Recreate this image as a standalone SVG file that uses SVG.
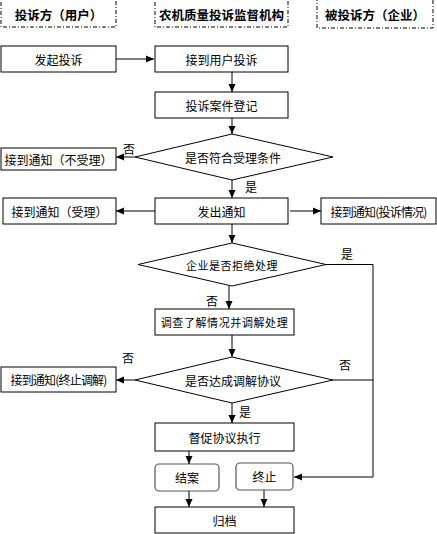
<svg xmlns="http://www.w3.org/2000/svg" width="437" height="534" viewBox="0 0 437 534">
<defs>
<marker id="ah" markerWidth="8" markerHeight="8" refX="8" refY="4" orient="auto" markerUnits="userSpaceOnUse">
<path d="M0,0.5 L8,4 L0,7.5 Z" fill="#000"/>
</marker>
<style>
.bx{fill:#fff;stroke:#000;stroke-width:1}
.hd{fill:#fff;stroke:#000;stroke-width:1;stroke-dasharray:4,2,1,2}
.rb{fill:#fff;stroke:#555;stroke-width:1.2}
.t{font-family:"Noto Sans CJK SC","Noto Sans CJK JP",sans-serif;font-size:12px;fill:#000;text-anchor:middle;dominant-baseline:central}
.h{font-family:"Noto Sans CJK SC","Noto Sans CJK JP",sans-serif;font-size:12.5px;font-weight:bold;fill:#000;text-anchor:middle;dominant-baseline:central}
.c{fill:none;stroke:#000;stroke-width:1}
</style>
</defs>
<rect width="437" height="534" fill="#fff"/>
<g id="h1"><rect class="hd" x="1" y="-1" width="115" height="28"/><text class="h" x="58.5" y="14">投诉方（用户）</text></g>
<g id="h2"><rect class="hd" x="155" y="-1" width="133" height="28"/><text class="h" x="221.5" y="14">农机质量投诉监督机构</text></g>
<g id="h3"><rect class="hd" x="317" y="-1" width="116" height="29"/><text class="h" x="375" y="14">被投诉方（企业）</text></g>

<g id="n1"><rect class="bx" x="1" y="46" width="115" height="26"/><text class="t" x="58.5" y="59">发起投诉</text></g>
<g id="n2"><rect class="bx" x="155" y="46" width="133" height="26"/><text class="t" x="221.5" y="59">接到用户投诉</text></g>
<g id="n3"><rect class="bx" x="155" y="92" width="133" height="26"/><text class="t" x="221.5" y="105">投诉案件登记</text></g>
<g id="d1"><polygon class="bx" points="232,134 333,157 232,180 135,157"/><text class="t" x="233" y="157">是否符合受理条件</text></g>
<g id="n4"><rect class="bx" x="1" y="148" width="115" height="22"/><text class="t" x="58.5" y="159">接到通知（不受理）</text></g>
<g id="n5"><rect class="bx" x="155" y="198" width="133" height="26"/><text class="t" x="221.5" y="211">发出通知</text></g>
<g id="n6"><rect class="bx" x="3" y="198" width="113" height="26"/><text class="t" x="59.5" y="211">接到通知（受理）</text></g>
<g id="n7"><rect class="bx" x="321" y="198" width="115" height="26"/><text class="t" x="378.5" y="211" letter-spacing="-0.8">接到通知(投诉情况)</text></g>
<g id="d2"><polygon class="bx" points="232,243 326,264.5 232,286 138,264.5"/><text class="t" x="232" y="264.5" style="font-size:11px;letter-spacing:0.5px">企业是否拒绝处理</text></g>
<g id="n8"><rect class="bx" x="155" y="309" width="139" height="26"/><text class="t" x="224.5" y="322" style="font-size:11px;letter-spacing:0.6px">调查了解情况并调解处理</text></g>
<g id="d3"><polygon class="bx" points="232,357 333,380 232,403 135,380"/><text class="t" x="233" y="380">是否达成调解协议</text></g>
<g id="n9"><rect class="bx" x="1" y="367" width="115" height="25"/><text class="t" x="58.5" y="379.5" letter-spacing="-0.8">接到通知(终止调解)</text></g>
<g id="n10"><rect class="bx" x="155" y="423" width="139" height="28"/><text class="t" x="224.5" y="437">督促协议执行</text></g>
<g id="n11"><rect class="rb" x="155" y="464" width="64" height="27" rx="4"/><text class="t" x="187" y="477.5">结案</text></g>
<g id="n12"><rect class="rb" x="236" y="463" width="57" height="27" rx="4"/><text class="t" x="264.5" y="476.5">终止</text></g>
<g id="n13"><rect class="bx" x="155" y="507" width="139" height="26"/><text class="t" x="224.5" y="520">归档</text></g>

<g id="connectors">
<line class="c" x1="116" y1="59" x2="154" y2="59" marker-end="url(#ah)"/>
<line class="c" x1="232" y1="72" x2="232" y2="92" marker-end="url(#ah)"/>
<line class="c" x1="232" y1="118" x2="232" y2="134" marker-end="url(#ah)"/>
<line class="c" x1="135" y1="157" x2="116" y2="157" marker-end="url(#ah)"/>
<line class="c" x1="232" y1="180" x2="232" y2="198" marker-end="url(#ah)"/>
<line class="c" x1="155" y1="211" x2="116" y2="211" marker-end="url(#ah)"/>
<line class="c" x1="290" y1="211" x2="321" y2="211" marker-end="url(#ah)"/>
<line class="c" x1="232" y1="224" x2="232" y2="243" marker-end="url(#ah)"/>
<line class="c" x1="229" y1="286" x2="229" y2="309" marker-end="url(#ah)"/>
<line class="c" x1="232" y1="335" x2="232" y2="357" marker-end="url(#ah)"/>
<line class="c" x1="135" y1="380" x2="116" y2="380" marker-end="url(#ah)"/>
<line class="c" x1="232" y1="403" x2="232" y2="423" marker-end="url(#ah)"/>
<line class="c" x1="189" y1="451" x2="189" y2="464" marker-end="url(#ah)"/>
<line class="c" x1="189" y1="491" x2="189" y2="507" marker-end="url(#ah)"/>
<line class="c" x1="264" y1="490" x2="264" y2="507" marker-end="url(#ah)"/>
<polyline class="c" points="326,264.5 373,264.5 373,477 294,477" marker-end="url(#ah)"/>
<line class="c" x1="333" y1="380" x2="373" y2="380"/>
<text class="t" x="129" y="148">否</text>
<text class="t" x="251" y="186">是</text>
<text class="t" x="347" y="253">是</text>
<text class="t" x="212" y="300">否</text>
<text class="t" x="128" y="357">否</text>
<text class="t" x="345" y="364">否</text>
<text class="t" x="245" y="411">是</text>
</g>
</svg>
